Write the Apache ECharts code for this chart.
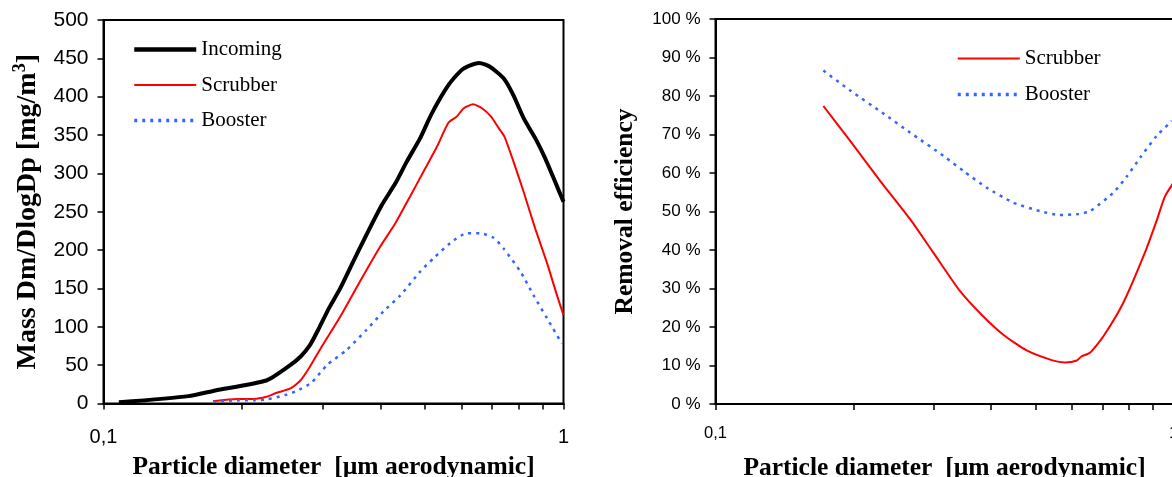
<!DOCTYPE html>
<html>
<head>
<meta charset="utf-8">
<script src="https://cdn.jsdelivr.net/npm/echarts@6/dist/echarts.min.js"></script>
<style>
  html, body { margin: 0; padding: 0; background: #fff; }
  #chart { width: 1172px; height: 477px; }
</style>
</head>
<body>
<div id="chart"></div>
<script>
// left chart: mass distribution
const incomingDp = [0.108, 0.153, 0.175, 0.226, 0.252, 0.268, 0.281, 0.294, 0.309, 0.327, 0.349, 0.373, 0.403, 0.431, 0.456, 0.488, 0.517, 0.562, 0.601, 0.621, 0.656, 0.692, 0.741, 0.778, 0.819, 0.868, 0.912, 0.959, 1.0];
const incomingMass = [1.5, 9.6, 17, 30, 48, 61, 76, 98, 124, 150, 185, 220, 259, 287, 315, 346, 378, 415, 435, 440, 444, 439, 424, 402, 372, 346, 320, 289, 263];

const scrubberDp = [0.173, 0.195, 0.212, 0.226, 0.238, 0.255, 0.268, 0.281, 0.298, 0.327, 0.361, 0.399, 0.431, 0.464, 0.5, 0.531, 0.562, 0.586, 0.607, 0.636, 0.665, 0.696, 0.723, 0.744, 0.779, 0.819, 0.868, 0.921, 0.968, 1.0];
const scrubberMass = [3, 6, 6, 8.7, 14, 19.6, 30, 48, 74, 113, 159, 204, 235, 270, 306, 335, 366, 374, 385, 390, 385, 374, 359, 348, 315, 276, 228, 183, 141, 115];

const boosterDp = [0.173, 0.191, 0.212, 0.226, 0.248, 0.262, 0.283, 0.306, 0.338, 0.373, 0.406, 0.442, 0.488, 0.521, 0.567, 0.616, 0.659, 0.705, 0.741, 0.806, 0.861, 0.921, 0.992];
const boosterMass = [2, 4, 4.3, 5.2, 11, 16, 27, 50, 70, 96, 120, 141, 172, 189, 209, 222, 222, 216, 202, 172, 141, 111, 78];

// right chart: removal efficiency (%)
const effScrubberDp = [0.172, 0.197, 0.229, 0.266, 0.299, 0.342, 0.381, 0.425, 0.478, 0.542, 0.58, 0.615, 0.63, 0.657, 0.703, 0.777, 0.866, 0.918, 0.957, 1.0];
const effScrubber = [77.4, 68.3, 57.9, 48, 39.3, 29.3, 23.2, 18, 13.9, 11.4, 10.8, 11.3, 12.4, 13.3, 17.6, 26.3, 39.3, 47.5, 53.8, 57.5];

const effBoosterDp = [0.172, 0.197, 0.231, 0.266, 0.315, 0.348, 0.391, 0.447, 0.511, 0.564, 0.615, 0.657, 0.739, 0.792, 0.846, 0.918, 0.991];
const effBooster = [86.6, 81.4, 75.7, 70.5, 64.4, 60.5, 56.2, 52.3, 50.1, 49.1, 49.3, 50.1, 54.9, 59.2, 64, 69.6, 73.5];

const minorTicks = [0.1, 0.2, 0.3, 0.4, 0.5, 0.6, 0.7, 0.8, 0.9, 1];
const xLabels = [0.1, 1];

const zip = (xs, ys) => xs.map((x, i) => [x, ys[i]]);

const SERIF = '"Liberation Serif", "Times New Roman", serif';
const SANS = '"Liberation Sans", Arial, sans-serif';

const xAxisBase = (idx, fontSize, margin) => ({
  type: 'log',
  logBase: 10,
  gridIndex: idx,
  min: 0.1,
  max: 1,
  name: 'Particle diameter  [µm aerodynamic]',
  nameLocation: 'middle',
  nameGap: 51,
  nameTextStyle: { fontFamily: SERIF, fontWeight: 'bold', fontSize: 25.5, color: '#000' },
  axisLine: { lineStyle: { color: '#000', width: 2 } },
  axisTick: { show: true, length: 6, lineStyle: { color: '#000', width: 1.5 }, customValues: minorTicks },
  axisLabel: {
    customValues: xLabels,
    fontFamily: SANS, fontSize: fontSize, color: '#000', margin: margin,
    formatter: v => String(+v.toFixed(3)).replace('.', ',')
  },
  splitLine: { show: false },
  minorTick: { show: false }
});

const legendBase = {
  orient: 'vertical', padding: 0, itemWidth: 62, itemHeight: 20,
  textStyle: { fontFamily: SERIF, fontSize: 21, color: '#000' },
  itemStyle: { opacity: 0 },
  selectedMode: false
};

const myChart = echarts.init(document.getElementById('chart'), null, { renderer: 'canvas' });

const option = {
  backgroundColor: '#fff',
  animation: false,
  grid: [
    { left: 103.5, top: 20, width: 460, height: 383.5, show: true, borderColor: '#000', borderWidth: 2, backgroundColor: 'transparent', outerBoundsMode: 'none' },
    { left: 715.5, top: 19, width: 458, height: 385, show: true, borderColor: '#000', borderWidth: 2, backgroundColor: 'transparent', outerBoundsMode: 'none' }
  ],
  legend: [
    Object.assign({}, legendBase, {
      left: 132, top: 39, itemGap: 14.5,
      data: [
        { name: 'Incoming', lineStyle: { width: 4.5 } },
        { name: 'Scrubber', lineStyle: { width: 2 } },
        { name: 'Booster', lineStyle: { width: 3.5, type: [3, 5] } }
      ]
    }),
    Object.assign({}, legendBase, {
      left: 956, top: 48, itemGap: 15,
      data: [
        { name: 'Scrubber', lineStyle: { width: 2 } },
        { name: 'Booster', lineStyle: { width: 3.5, type: [3, 5] } }
      ]
    })
  ],
  xAxis: [
    xAxisBase(0, 20, 24),
    xAxisBase(1, 16.5, 21)
  ],
  yAxis: [
    {
      type: 'value', gridIndex: 0, min: 0, max: 500, interval: 50,
      name: '{a|Mass Dm/DlogDp [mg/m}{sup|3}{a|]}',
      nameLocation: 'middle', nameGap: 60,
      nameTextStyle: {
        fontFamily: SERIF, fontWeight: 'bold', fontSize: 28, color: '#000',
        rich: {
          a: { fontFamily: SERIF, fontWeight: 'bold', fontSize: 28, lineHeight: 32, color: '#000' },
          sup: { fontFamily: SERIF, fontWeight: 'bold', fontSize: 18, lineHeight: 18, verticalAlign: 'top', color: '#000' }
        }
      },
      axisLine: { show: true, lineStyle: { color: '#000', width: 2 } },
      axisTick: { show: true, length: 6, lineStyle: { color: '#000', width: 1.5 } },
      axisLabel: { fontFamily: SANS, fontSize: 21, color: '#000', margin: 15 },
      splitLine: { show: false }
    },
    {
      type: 'value', gridIndex: 1, min: 0, max: 100, interval: 10,
      name: 'Removal efficiency',
      nameLocation: 'middle', nameGap: 77,
      nameTextStyle: { fontFamily: SERIF, fontWeight: 'bold', fontSize: 25.5, color: '#000' },
      axisLine: { show: true, lineStyle: { color: '#000', width: 2 } },
      axisTick: { show: true, length: 6, lineStyle: { color: '#000', width: 1.5 } },
      axisLabel: { fontFamily: SANS, fontSize: 17, color: '#000', margin: 15, formatter: '{value} %' },
      splitLine: { show: false }
    }
  ],
  series: [
    {
      name: 'Incoming', type: 'line', xAxisIndex: 0, yAxisIndex: 0,
      data: zip(incomingDp, incomingMass), symbol: 'none', smooth: 0.2,
      itemStyle: { color: '#000' },
      lineStyle: { color: '#000', width: 4 }
    },
    {
      name: 'Scrubber', type: 'line', xAxisIndex: 0, yAxisIndex: 0,
      data: zip(scrubberDp, scrubberMass), symbol: 'none', smooth: 0.2,
      itemStyle: { color: '#ff0000' },
      lineStyle: { color: '#ff0000', width: 2 }
    },
    {
      name: 'Booster', type: 'line', xAxisIndex: 0, yAxisIndex: 0,
      data: zip(boosterDp, boosterMass), symbol: 'none', smooth: 0.2,
      itemStyle: { color: '#3366ff' },
      lineStyle: { color: '#3366ff', width: 2.5, type: [3, 5] }
    },
    {
      name: 'Scrubber', type: 'line', xAxisIndex: 1, yAxisIndex: 1,
      data: zip(effScrubberDp, effScrubber), symbol: 'none', smooth: 0.2,
      itemStyle: { color: '#ff0000' },
      lineStyle: { color: '#ff0000', width: 2 }
    },
    {
      name: 'Booster', type: 'line', xAxisIndex: 1, yAxisIndex: 1,
      data: zip(effBoosterDp, effBooster), symbol: 'none', smooth: 0.2,
      itemStyle: { color: '#3366ff' },
      lineStyle: { color: '#3366ff', width: 2.5, type: [3, 5] }
    }
  ]
};

myChart.setOption(option);
</script>
</body>
</html>
